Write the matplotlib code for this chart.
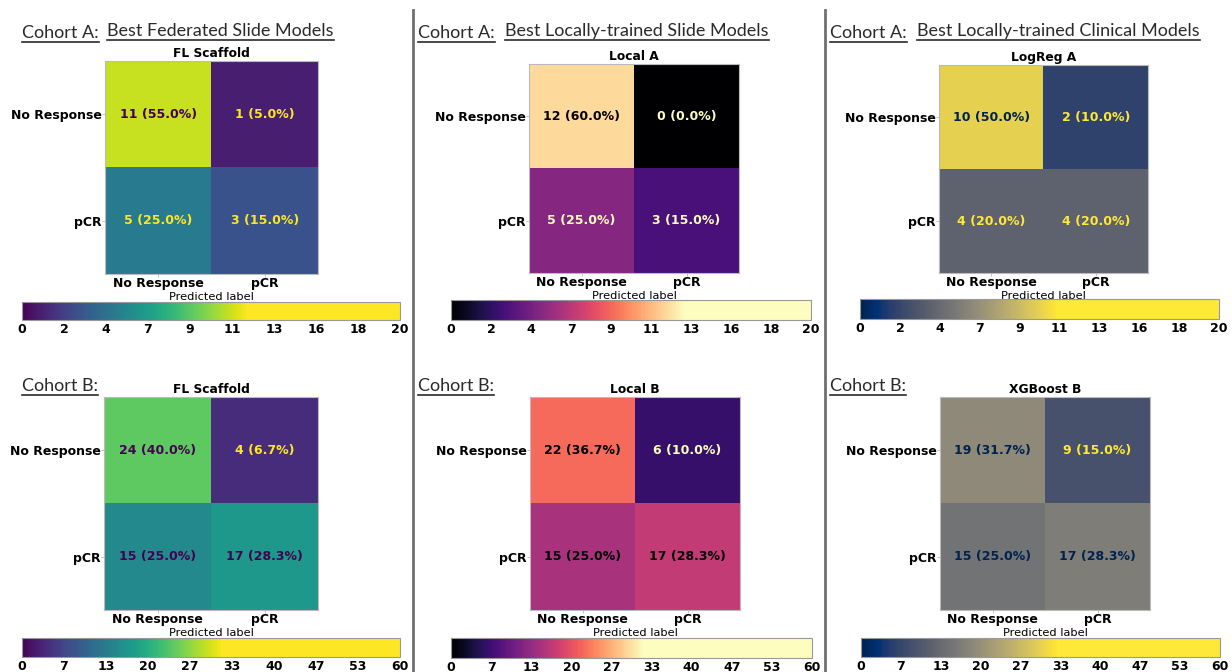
import numpy as np
import matplotlib.pyplot as plt
from matplotlib.colors import Normalize
from matplotlib.cm import ScalarMappable
from matplotlib.lines import Line2D

plt.rcParams['font.family'] = 'DejaVu Sans'

classes = ['No Response', 'pCR']

# confusion matrices, rows = true label, cols = predicted label
fl_a = np.array([[11, 1], [5, 3]])
local_a = np.array([[12, 0], [5, 3]])
logreg_a = np.array([[10, 2], [4, 4]])
fl_b = np.array([[24, 4], [15, 17]])
local_b = np.array([[22, 6], [15, 17]])
xgb_b = np.array([[19, 9], [15, 17]])

titles_a = ['FL Scaffold', 'Local A', 'LogReg A']
titles_b = ['FL Scaffold', 'Local B', 'XGBoost B']
headers = ['Best Federated Slide Models', 'Best Locally-trained Slide Models',
           'Best Locally-trained Clinical Models']
cmaps = ['viridis', 'magma', 'cividis']
total_a, total_b = 20, 60
# upper colour limit used for the cells of each matrix
clim_a = [12, 13, 11]
clim_b = [32, 32, 33]

W, H = 1232, 672
fig = plt.figure(figsize=(W / 100, H / 100), dpi=100)


def px_axes(x0, y0, x1, y1):
    return fig.add_axes([x0 / W, 1 - y1 / H, (x1 - x0) / W, (y1 - y0) / H])


def draw_cm(ax, cm, total, cmap_name, norm, title):
    cmap = plt.get_cmap(cmap_name)
    ax.imshow(cm, cmap=cmap, norm=norm, aspect='auto')
    thresh = (cm.max() + cm.min()) / 2
    for i in range(2):
        for j in range(2):
            c = cmap(0.0) if cm[i, j] >= thresh else cmap(1.0)
            ax.text(j, i, f'{cm[i, j]} ({cm[i, j] / total * 100:.1f}%)',
                    ha='center', va='center', color=c, fontsize=9, fontweight='bold')
    ax.set_xticks([0, 1])
    ax.set_yticks([0, 1])
    ax.set_xticklabels(classes, fontsize=9, fontweight='bold')
    ax.set_yticklabels(classes, fontsize=9, fontweight='bold')
    ax.tick_params(length=2, width=0.5, color='#aaaaaa', pad=0.3)
    ax.set_xlabel('Predicted label', fontsize=8.2, labelpad=1.5)
    ax.set_title(title, fontsize=8.8, fontweight='bold', pad=3)
    for s in ax.spines.values():
        s.set_color('#bbbbbb')
        s.set_linewidth(0.8)


def draw_cbar(cax, cmap_name, norm, total):
    # colour bar over 0..total, coloured with the same norm as the cells
    sm = ScalarMappable(norm=norm, cmap=cmap_name)
    bounds = np.linspace(0, total, 257)
    cb = fig.colorbar(sm, cax=cax, orientation='horizontal',
                      boundaries=bounds, values=(bounds[:-1] + bounds[1:]) / 2)
    ticks = np.linspace(0, total, 10)
    cb.set_ticks(ticks)
    cb.set_ticklabels([f'{t:.0f}' for t in ticks])
    cax.tick_params(length=0, pad=2, labelsize=9)
    for lab in cax.get_xticklabels():
        lab.set_fontweight('bold')
    cb.outline.set_edgecolor('#999999')
    cb.outline.set_linewidth(0.8)


mats_a = [fl_a, local_a, logreg_a]
mats_b = [fl_b, local_b, xgb_b]
cm_boxes_a = [(105, 61, 318, 274), (529, 64, 739, 273), (939, 65, 1148, 273)]
cm_boxes_b = [(104, 397, 318, 610), (530, 397, 740, 610), (940, 397, 1150, 610)]
cb_boxes_a = [(22, 302, 400, 320), (451, 300, 811, 320), (860, 299, 1219, 319)]
cb_boxes_b = [(22, 638, 400, 657), (451, 638, 812, 658), (861, 638, 1220, 657)]
col_x = [22, 418, 830]
head_x = [107, 505, 917]

for k in range(3):
    norm = Normalize(0, clim_a[k], clip=True)
    draw_cm(px_axes(*cm_boxes_a[k]), mats_a[k], total_a, cmaps[k], norm, titles_a[k])
    draw_cbar(px_axes(*cb_boxes_a[k]), cmaps[k], norm, total_a)
    norm = Normalize(0, clim_b[k], clip=True)
    draw_cm(px_axes(*cm_boxes_b[k]), mats_b[k], total_b, cmaps[k], norm, titles_b[k])
    draw_cbar(px_axes(*cb_boxes_b[k]), cmaps[k], norm, total_b)

# section headers, underlined
head_font = dict(fontsize=13, family='Lato', color='#2a2a2a', va='baseline', ha='left')
labels = []
for k in range(3):
    labels.append(fig.text(col_x[k] / W, 1 - 38 / H, 'Cohort A:', **head_font))
    labels.append(fig.text(head_x[k] / W, 1 - 36 / H, headers[k], **head_font))
    labels.append(fig.text(col_x[k] / W, 1 - 391 / H, 'Cohort B:', **head_font))

fig.canvas.draw()
renderer = fig.canvas.get_renderer()
for t in labels:
    bb = t.get_window_extent(renderer).transformed(fig.transFigure.inverted())
    y = t.get_position()[1] - 3.5 / H
    fig.add_artist(Line2D([bb.x0, bb.x1], [y, y], color='#2a2a2a', lw=1.2,
                          transform=fig.transFigure))

# column separators
for x in (413, 825):
    fig.add_artist(Line2D([x / W, x / W], [0, 1 - 10 / H], color='#707070', lw=2,
                          transform=fig.transFigure))

fig.savefig('out.png', dpi=100, facecolor='white')
